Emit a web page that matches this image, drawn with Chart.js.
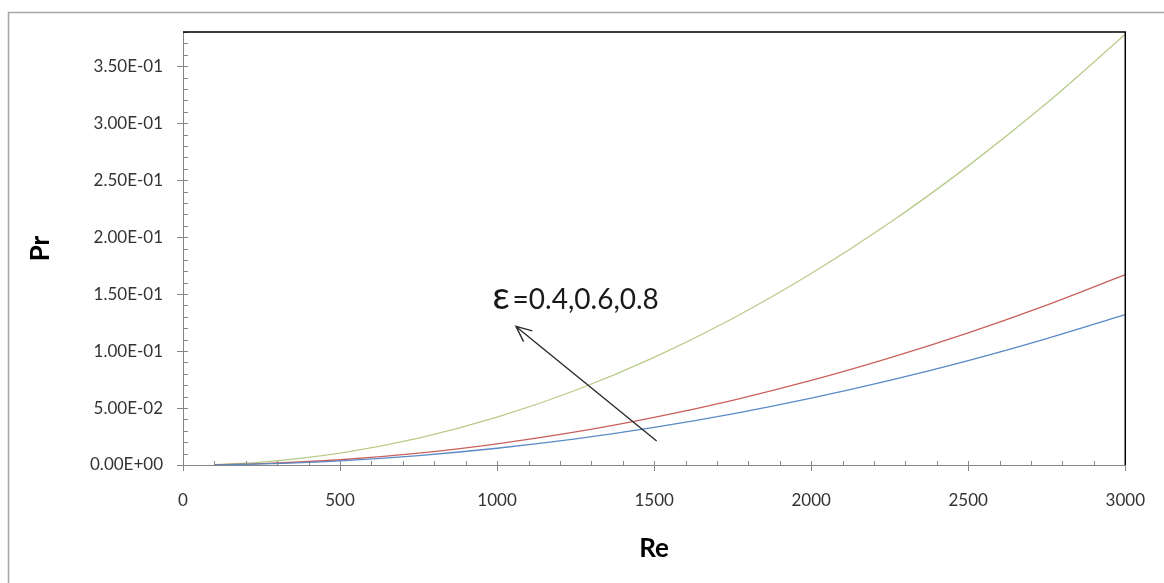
<!DOCTYPE html>
<html>
<head>
<meta charset="utf-8">
<script src="https://cdn.jsdelivr.net/npm/chart.js@4.4.1/dist/chart.umd.min.js"></script>
<style>
  html, body { margin: 0; padding: 0; background: #fff; }
  canvas { display: block; }
</style>
</head>
<body>
<canvas id="c" width="1164" height="583"></canvas>
<script>
// ── data ─────────────────────────────────────────────────
const RE = [100, 250, 500, 750, 1000, 1250, 1500, 1750, 2000, 2250, 2500, 2750, 3000];
const PR_EPS_04 = [0.00015, 0.0009, 0.0037, 0.0083, 0.0147, 0.0229, 0.033, 0.0449, 0.0587, 0.0743, 0.0917, 0.111, 0.132];
const PR_EPS_06 = [0.0002, 0.0012, 0.0046, 0.0104, 0.0186, 0.029, 0.0418, 0.0568, 0.0742, 0.094, 0.116, 0.1403, 0.167];
const PR_EPS_08 = [0.0004, 0.0026, 0.0105, 0.0236, 0.042, 0.0656, 0.0945, 0.1286, 0.168, 0.2126, 0.2625, 0.3176, 0.378];

const X_MIN = 0, X_MAX = 3000, X_STEP = 500, X_MINOR = 100;
const Y_MIN = 0, Y_MAX = 0.38, Y_STEP = 0.05, Y_MINOR = 0.01;

// annotation: text anchor and arrow in data units
const NOTE_TEXT = ["ε", "=0.4,0.6,0.8"];
const NOTE_AT = { x: 985, y: 0.1366 };
const ARROW_FROM = { x: 1508, y: 0.021 };
const ARROW_TO = { x: 1060, y: 0.1216 };

const FONT = "Lato, 'Open Sans', sans-serif";

// ── helpers ──────────────────────────────────────────────
function fmtSci(v) {
  const [m, e] = v.toExponential(2).split("e");
  const n = Math.abs(parseInt(e, 10));
  return `${m}E${e[0] === "-" ? "-" : "+"}${String(n).padStart(2, "0")}`;
}

function toPoints(ys) {
  return RE.map((x, i) => ({ x, y: ys[i] }));
}

function series(label, ys, color) {
  return {
    label,
    data: toPoints(ys),
    borderColor: color,
    backgroundColor: color,
    borderWidth: 1.3,
    pointRadius: 0,
    showLine: true,
    cubicInterpolationMode: "monotone",
  };
}

// ── frame, minor ticks, annotation ───────────────────────
const decor = {
  id: "decor",
  beforeDraw(chart) {
    const { ctx, width, height } = chart;
    ctx.save();
    ctx.fillStyle = "#fff";
    ctx.fillRect(0, 0, width, height);
    ctx.strokeStyle = "#a6a6a6";
    ctx.lineWidth = 1.5;
    ctx.beginPath();
    ctx.moveTo(8.5, height);
    ctx.lineTo(8.5, 12.5);
    ctx.lineTo(width, 12.5);
    ctx.stroke();
    ctx.restore();
  },
  afterDraw(chart) {
    const { ctx, chartArea: { left, right, top, bottom } } = chart;
    const xs = chart.scales.x, ys = chart.scales.y;
    ctx.save();

    // inner tick marks (major + minor)
    ctx.strokeStyle = "#868686";
    ctx.lineWidth = 1;
    ctx.beginPath();
    for (let v = X_MIN; v <= X_MAX + 1e-6; v += X_MINOR) {
      const px = Math.round(xs.getPixelForValue(v)) + 0.5;
      ctx.moveTo(px, bottom);
      ctx.lineTo(px, bottom - 4);
    }
    for (let k = 0; k * Y_MINOR <= Y_MAX + 1e-9; k++) {
      const py = Math.round(ys.getPixelForValue(k * Y_MINOR)) + 0.5;
      ctx.moveTo(left, py);
      ctx.lineTo(left + 5, py);
    }
    ctx.stroke();

    // plot border top + right
    ctx.strokeStyle = "#000";
    ctx.lineWidth = 1.5;
    ctx.beginPath();
    ctx.moveTo(left, top);
    ctx.lineTo(right, top);
    ctx.lineTo(right, bottom);
    ctx.stroke();

    // arrow
    const x0 = xs.getPixelForValue(ARROW_FROM.x), y0 = ys.getPixelForValue(ARROW_FROM.y);
    const x1 = xs.getPixelForValue(ARROW_TO.x), y1 = ys.getPixelForValue(ARROW_TO.y);
    const ang = Math.atan2(y1 - y0, x1 - x0);
    const head = 17, spread = 0.42;
    ctx.strokeStyle = "#2b2b2b";
    ctx.lineWidth = 1.4;
    ctx.beginPath();
    ctx.moveTo(x0, y0);
    ctx.lineTo(x1, y1);
    ctx.moveTo(x1 - head * Math.cos(ang - spread), y1 - head * Math.sin(ang - spread));
    ctx.lineTo(x1, y1);
    ctx.lineTo(x1 - head * Math.cos(ang + spread), y1 - head * Math.sin(ang + spread));
    ctx.stroke();

    // note text
    const tx = xs.getPixelForValue(NOTE_AT.x), ty = ys.getPixelForValue(NOTE_AT.y);
    ctx.fillStyle = "#1a1a1a";
    ctx.textBaseline = "alphabetic";
    ctx.textAlign = "left";
    ctx.font = `38px ${FONT}`;
    ctx.fillText(NOTE_TEXT[0], tx, ty);
    const w = ctx.measureText(NOTE_TEXT[0]).width;
    ctx.font = `28px ${FONT}`;
    ctx.fillText(NOTE_TEXT[1], tx + w + 3, ty);

    ctx.restore();
  },
};

// ── chart ────────────────────────────────────────────────
new Chart(document.getElementById("c"), {
  type: "scatter",
  data: {
    datasets: [
      series("ε=0.4", PR_EPS_04, "#5a8ac6"),
      series("ε=0.6", PR_EPS_06, "#c9605d"),
      series("ε=0.8", PR_EPS_08, "#b8cc8a"),
    ],
  },
  options: {
    responsive: false,
    animation: false,
    layout: { padding: { left: 0, top: 32, right: 29, bottom: 0 } },
    plugins: {
      legend: { display: false },
      tooltip: { enabled: false },
    },
    scales: {
      x: {
        type: "linear",
        min: X_MIN,
        max: X_MAX,
        afterFit(s) { s.height = 118; },
        ticks: {
          stepSize: X_STEP,
          padding: 19,
          color: "#333",
          font: { family: FONT, size: 17 },
          maxRotation: 0,
          callback: (v) => String(v),
        },
        grid: { drawOnChartArea: false, tickLength: 6, color: "#868686" },
        border: { color: "#868686", width: 1 },
        title: {
          display: true,
          text: "Re",
          color: "#000",
          font: { family: FONT, size: 26, weight: "bold" },
          padding: { top: 0, bottom: 19 },
        },
      },
      y: {
        type: "linear",
        min: Y_MIN,
        max: Y_MAX,
        afterFit(s) { s.width = 183; },
        ticks: {
          stepSize: Y_STEP,
          includeBounds: false,
          padding: 14,
          color: "#333",
          font: { family: FONT, size: 17 },
          callback: (v) => fmtSci(v),
        },
        grid: { drawOnChartArea: false, tickLength: 6, color: "#868686" },
        border: { color: "#868686", width: 1 },
        title: {
          display: true,
          text: "Pr",
          color: "#000",
          font: { family: FONT, size: 26, weight: "bold" },
          padding: { top: 25, bottom: 0 },
        },
      },
    },
  },
  plugins: [decor],
});
</script>
</body>
</html>
